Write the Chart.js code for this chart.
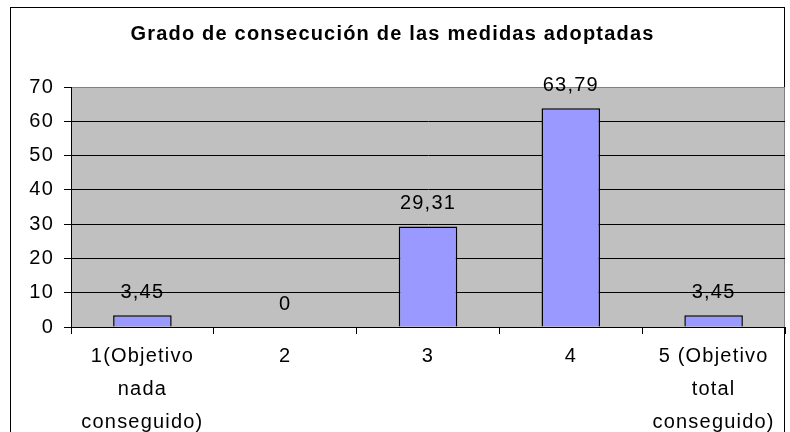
<!DOCTYPE html>
<html>
<head>
<meta charset="utf-8">
<script src="https://cdn.jsdelivr.net/npm/chart.js@4/dist/chart.umd.min.js"></script>
<style>
    html, body { margin: 0; padding: 0; background: #fff; }
    #frame {
        position: absolute; left: 10px; top: 7px;
        width: 775px; height: 440px;
        border: 1.5px solid #000;
        box-sizing: border-box;
    }
    #wrap { position: absolute; left: 0; top: 0; width: 790px; height: 432px; }
</style>
</head>
<body>
<div id="frame"></div>
<div id="wrap"><canvas id="gradoChart"></canvas></div>
<script>
const categories = [['1(Objetivo', 'nada', 'conseguido)'], '2', '3', '4', ['5 (Objetivo', 'total', 'conseguido)']];
const values = [3.45, 0, 29.31, 63.79, 3.45];
const yTicks = [0, 10, 20, 30, 40, 50, 60, 70];

const fontFamily = '"Liberation Sans", Arial, sans-serif';
const spacing = '1.2px';

const plotBackground = {
    id: 'plotBackground',
    beforeLayout(chart) { chart.ctx.letterSpacing = spacing; },
    beforeDraw(chart) {
        const { ctx, chartArea: a } = chart;
        ctx.letterSpacing = spacing;
        ctx.save();
        ctx.fillStyle = '#C0C0C0';
        ctx.fillRect(a.left, a.top, a.right - a.left, a.bottom - a.top);
        ctx.strokeStyle = '#808080';
        ctx.lineWidth = 1;
        ctx.strokeRect(a.left + 0.5, a.top + 0.5, a.right - a.left - 1, a.bottom - a.top);
        ctx.restore();
    },
};

const valueLabels = {
    id: 'valueLabels',
    afterDatasetsDraw(chart) {
        const ctx = chart.ctx;
        const meta = chart.getDatasetMeta(0);
        ctx.save();
        ctx.font = '20px ' + fontFamily;
        ctx.fillStyle = '#000';
        ctx.textAlign = 'center';
        ctx.textBaseline = 'middle';
        meta.data.forEach((bar, i) => {
            const txt = String(values[i]).replace('.', ',');
            ctx.fillText(txt, bar.x, bar.y - 23);
        });
        ctx.restore();
    },
};

const gradoChart = new Chart(document.getElementById('gradoChart'), {
    type: 'bar',
    data: {
        labels: categories,
        datasets: [{
            data: values,
            backgroundColor: '#9999FF',
            borderColor: '#000',
            borderWidth: 1.5,
            barPercentage: 0.41,
            categoryPercentage: 1,
        }],
    },
    options: {
        responsive: true,
        maintainAspectRatio: false,
        animation: false,
        layout: { padding: { left: 0, right: 5, top: 0, bottom: 0 } },
        plugins: {
            legend: { display: false },
            tooltip: { enabled: false },
            title: {
                display: true,
                text: 'Grado de consecución de las medidas adoptadas',
                color: '#000',
                font: { family: fontFamily, size: 20, weight: 'bold', lineHeight: 1.2 },
                padding: { top: 22, bottom: 41 },
            },
        },
        scales: {
            x: {
                grid: { drawOnChartArea: false, drawTicks: true, tickLength: 7, color: '#000', offset: true },
                border: { color: '#000', width: 1 },
                ticks: {
                    color: '#000',
                    padding: 6,
                    maxRotation: 0,
                    autoSkip: false,
                    font: { family: fontFamily, size: 20, lineHeight: 1.65 },
                },
                afterFit(scale) { scale.height = 105; },
            },
            y: {
                min: 0,
                max: 70,
                afterBuildTicks(scale) { scale.ticks = yTicks.map(v => ({ value: v })); },
                grid: {
                    color: ctx => (ctx.tick && ctx.tick.value === 70 ? '#808080' : '#000'),
                    tickColor: '#000',
                    tickLength: 7,
                    lineWidth: 1,
                },
                border: { color: '#000', width: 1 },
                ticks: {
                    color: '#000',
                    padding: 10,
                    font: { family: fontFamily, size: 20 },
                },
                afterFit(scale) { scale.width = 71; },
            },
        },
    },
    plugins: [plotBackground, valueLabels],
});
</script>
</body>
</html>
